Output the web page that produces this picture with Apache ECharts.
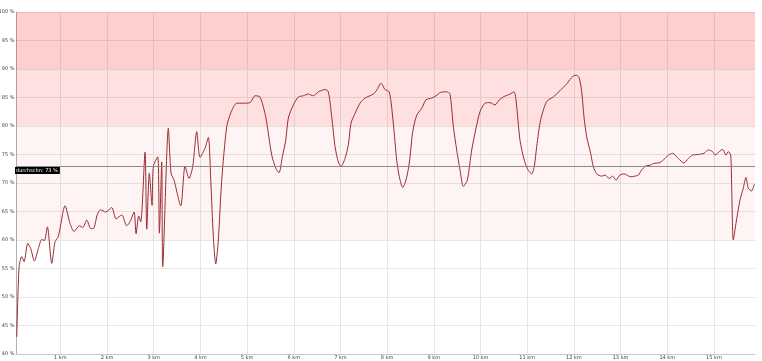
<!DOCTYPE html>
<html>
<head>
<meta charset="utf-8">
<script src="https://cdn.jsdelivr.net/npm/echarts@6/dist/echarts.min.js"></script>
<style>
html,body{margin:0;padding:0;background:#fff;}
#chart{width:762px;height:361px;}
</style>
</head>
<body>
<div id="chart"></div>
<script>
const distanceKm = [0.066,0.116,0.173,0.223,0.302,0.366,0.443,0.529,0.602,0.658,0.722,0.816,0.887,0.957,1.101,1.208,1.294,1.407,1.480,1.566,1.651,1.707,1.793,1.865,1.973,2.101,2.193,2.315,2.422,2.493,2.579,2.622,2.679,2.722,2.814,2.851,2.906,2.964,2.992,3.086,3.121,3.172,3.193,3.313,3.371,3.435,3.579,3.671,3.757,3.836,3.922,3.992,4.099,4.170,4.222,4.277,4.329,4.384,4.457,4.564,4.656,4.778,4.920,5.063,5.170,5.277,5.399,5.528,5.614,5.684,5.755,5.828,5.884,5.991,6.098,6.205,6.312,6.419,6.526,6.670,6.740,6.813,6.884,6.954,7.012,7.098,7.169,7.226,7.312,7.419,7.526,7.704,7.777,7.869,7.955,8.047,8.132,8.205,8.261,8.334,8.404,8.475,8.548,8.634,8.741,8.833,8.955,9.047,9.148,9.276,9.347,9.418,9.490,9.561,9.632,9.717,9.812,9.904,9.989,10.097,10.204,10.311,10.403,10.488,10.632,10.718,10.760,10.846,10.938,11.024,11.097,11.152,11.204,11.289,11.418,11.559,11.703,11.846,11.988,12.061,12.116,12.168,12.217,12.275,12.360,12.416,12.489,12.596,12.667,12.759,12.831,12.902,12.988,13.074,13.217,13.380,13.453,13.545,13.633,13.701,13.845,13.952,14.022,14.117,14.237,14.359,14.451,14.545,14.665,14.787,14.879,14.973,15.022,15.115,15.187,15.258,15.307,15.359,15.380,15.415,15.472,15.558,15.629,15.686,15.736,15.808,15.864];
const percentValues = [43.0,55.3,57.1,56.2,59.4,58.5,56.3,58.5,60.1,59.9,62.3,55.9,59.7,60.6,66.0,62.9,61.5,62.5,62.2,63.5,62.0,62.0,64.5,65.3,64.9,65.7,63.7,64.4,62.5,63.2,64.9,61.1,64.2,63.2,75.4,61.9,71.7,66.1,72.9,74.6,61.2,73.7,55.3,79.6,71.7,70.5,66.0,72.9,70.8,72.9,79.0,74.5,76.1,78.0,70.5,60.6,55.8,60.0,70.5,79.9,82.4,84.0,84.0,84.1,85.3,85.1,81.6,74.9,72.6,71.8,74.6,77.5,81.4,83.7,85.1,85.3,85.6,85.3,86.0,86.4,86.0,81.6,76.4,73.7,72.9,74.3,76.7,80.5,82.2,84.0,84.9,85.6,86.3,87.5,86.4,86.0,80.5,74.0,71.1,69.2,70.5,73.5,79.0,81.9,83.1,84.6,84.9,85.3,85.9,86.0,85.6,79.9,75.8,72.3,69.4,70.5,75.8,79.6,82.5,84.0,84.1,83.7,84.6,85.1,85.6,86.0,84.6,77.5,74.0,72.2,71.6,72.9,76.4,81.1,84.3,85.1,86.2,87.4,88.8,88.9,88.4,86.0,81.6,78.1,75.2,72.9,71.6,71.2,71.4,70.8,71.2,70.5,71.4,71.6,71.1,71.4,72.3,73.0,73.1,73.4,73.6,74.3,74.9,75.2,74.3,73.5,74.3,74.9,75.0,75.2,75.8,75.5,74.9,75.5,75.9,74.9,75.5,74.9,69.4,60.0,62.9,67.0,69.1,71.0,69.1,68.6,69.8];
const xTickKm = [1,2,3,4,5,6,7,8,9,10,11,12,13,14,15];
const bands = [[90,100],[80,90],[60,80]];
const bandColors = ['rgba(255,0,0,0.19)','rgba(255,0,0,0.12)','rgba(255,0,0,0.045)'];
const averageValue = 73;
const averageLabel = 'durchschn: 73 %';

const chart = echarts.init(document.getElementById('chart'), null, {renderer:'canvas'});
const seriesData = distanceKm.map((d,i)=>[d, percentValues[i]]);
chart.setOption({
  animation:false,
  grid:{left:16,right:7,top:12,bottom:7,containLabel:false,outerBoundsMode:'none'},
  xAxis:{
    type:'value', min:0.05, max:15.88,
    axisLine:{show:true,lineStyle:{color:'#c8c8c8',width:1}},
    axisTick:{show:false, customValues:xTickKm},
    axisLabel:{customValues:xTickKm, formatter:'{value} km', fontSize:5, color:'#444', margin:1, fontFamily:'DejaVu Sans'},
    splitLine:{show:true,lineStyle:{color:'#e6e6e6',width:1}}
  },
  yAxis:{
    type:'value', min:40, max:100, interval:5,
    axisLine:{show:true,lineStyle:{color:'#b0b0b0',width:1}},
    axisTick:{show:false},
    axisLabel:{formatter:'{value} %', fontSize:5, color:'#444', margin:1.5, fontFamily:'DejaVu Sans'},
    splitLine:{show:true,lineStyle:{color:'#e6e6e6',width:1}}
  },
  series:[{
    type:'line',
    data:seriesData,
    showSymbol:false,
    smooth:0.25,
    lineStyle:{color:'#9a2c30',width:1},
    markArea:{
      silent:true,
      data:bands.map((b,i)=>[{yAxis:b[0],itemStyle:{color:bandColors[i]}},{yAxis:b[1]}])
    },
    markLine:{
      silent:true,
      symbol:'none',
      lineStyle:{color:'#8a8a8a',width:1,type:'solid'},
      label:{
        show:true, position:'insideStartBottom', formatter:averageLabel,
        color:'#fff', backgroundColor:'#000', fontSize:5, padding:[1,2,1,1],
        distance:1, offset:[-2,0], fontFamily:'DejaVu Sans'
      },
      data:[{yAxis:averageValue}]
    }
  }]
});
</script>
</body>
</html>
